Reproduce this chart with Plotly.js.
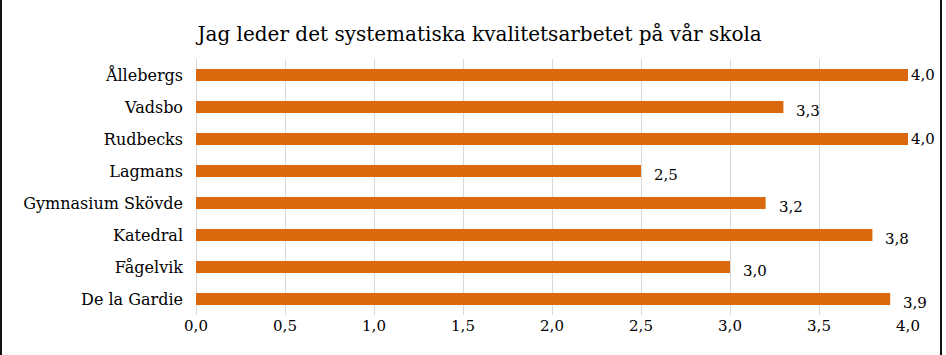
<!DOCTYPE html>
<html>
<head>
<meta charset="utf-8">
<script src="https://cdn.plot.ly/plotly-3.0.1.min.js"></script>
<style>
  html, body { margin: 0; padding: 0; background: #fff; }
  #wrap { position: relative; width: 946px; height: 355px; }
  #chart { width: 946px; height: 355px; }
  #frame { position: absolute; left: 0; top: 0; width: 942px; height: 355px;
           border-left: 2px solid #111; border-right: 2px solid #111; box-sizing: border-box; pointer-events: none; }
</style>
</head>
<body>
<div id="wrap"><div id="chart"></div><div id="frame"></div></div>
<script>
const schools = ["Ållebergs", "Vadsbo", "Rudbecks", "Lagmans", "Gymnasium Skövde", "Katedral", "Fågelvik", "De la Gardie"];
const scores = [4.0, 3.3, 4.0, 2.5, 3.2, 3.8, 3.0, 3.9];
const xTicks = [0, 0.5, 1, 1.5, 2, 2.5, 3, 3.5, 4];
const chartTitle = "Jag leder det systematiska kvalitetsarbetet på vår skola";

const font = "DejaVu Serif, Georgia, serif";
const xMax = 4;

// data labels: placed outside bar end; labels at the axis maximum are pulled in to fit the frame
const labels = schools.map((s, i) => {
  const atEdge = scores[i] >= xMax;
  return {
    x: scores[i], y: s, xref: "x", yref: "y",
    text: scores[i].toFixed(1).replace(".", ","),
    showarrow: false, xanchor: "left", yanchor: "middle",
    xshift: atEdge ? 1 : 11, yshift: atEdge ? 0 : -4,
    font: { family: font, size: 15, color: "#000" }
  };
});

Plotly.newPlot("chart", [{
  type: "bar",
  orientation: "h",
  y: schools,
  x: scores,
  marker: { color: "#D9690C" },
  cliponaxis: false,
  hoverinfo: "none"
}], {
  width: 946, height: 355,
  margin: { l: 196, r: 38, t: 59, b: 40 },
  separators: ", ",
  paper_bgcolor: "#fff",
  plot_bgcolor: "#fff",
  showlegend: false,
  bargap: 0.62,
  annotations: labels,
  title: { text: chartTitle, x: 0.507, xref: "container", xanchor: "center", y: 0.905, yanchor: "middle",
           font: { family: font, size: 20, color: "#000" } },
  xaxis: {
    range: [0, 4],
    tickvals: xTicks,
    tickformat: ".1f",
    showgrid: true, gridcolor: "#D9D9D9", gridwidth: 1,
    zeroline: true, zerolinecolor: "#D9D9D9", zerolinewidth: 1,
    showline: false,
    ticks: "",
    tickfont: { family: font, size: 15, color: "#000" }
  },
  yaxis: {
    categoryorder: "array",
    categoryarray: schools.slice().reverse(),
    range: [-0.5, 7.5],
    showgrid: false, zeroline: false, showline: false,
    ticks: "",
    ticklabelstandoff: 12,
    tickfont: { family: font, size: 16, color: "#000" }
  }
}, { displayModeBar: false, staticPlot: true });
</script>
</body>
</html>
